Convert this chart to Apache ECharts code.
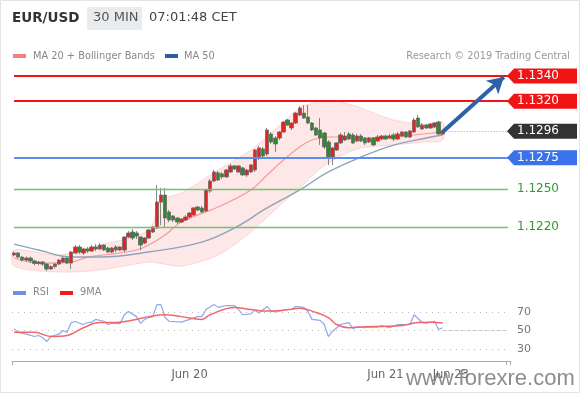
<!DOCTYPE html>
<html><head><meta charset="utf-8">
<script src="https://cdn.jsdelivr.net/npm/echarts@6/dist/echarts.min.js"></script>
<style>html,body{margin:0;padding:0;background:#fff}#c{width:580px;height:393px}</style>
</head><body><div id="c"></div><script>
// ---------- DATA ----------
const ohlc = [
[1.11977,1.11993,1.11965,1.12005],[1.11993,1.11961,1.11950,1.12001],[1.11961,1.11937,1.11925,1.11970],[1.11937,1.11953,1.11925,1.11965],
[1.11953,1.11930,1.11915,1.11965],[1.11930,1.11910,1.11895,1.11940],[1.11910,1.11921,1.11895,1.11930],[1.11921,1.11905,1.11890,1.11930],
[1.11905,1.11866,1.11850,1.11913],[1.11866,1.11885,1.11858,1.11897],[1.11885,1.11905,1.11870,1.11913],[1.11905,1.11937,1.11897,1.11945],
[1.11921,1.11953,1.11913,1.11961],[1.11953,1.11913,1.11905,1.11961],[1.11913,1.12001,1.11866,1.12009],[1.11993,1.12041,1.11985,1.12056],
[1.12041,1.12001,1.11985,1.12056],[1.11993,1.12025,1.11977,1.12033],[1.12025,1.12009,1.11993,1.12041],[1.12009,1.12041,1.12001,1.12056],
[1.12041,1.12025,1.12009,1.12064],[1.12025,1.12056,1.12017,1.12072],[1.12056,1.12017,1.12009,1.12064],[1.12033,1.12001,1.11993,1.12041],
[1.12001,1.12033,1.11993,1.12041],[1.12041,1.12017,1.12001,1.12056],[1.12017,1.12041,1.12009,1.12048],[1.12017,1.12120,1.12001,1.12128],
[1.12120,1.12152,1.12112,1.12168],[1.12160,1.12112,1.12096,1.12184],[1.12152,1.12128,1.12104,1.12168],[1.12120,1.12056,1.12017,1.12128],
[1.12072,1.12112,1.12064,1.12120],[1.12112,1.12176,1.12104,1.12184],[1.12160,1.12200,1.12152,1.12208],[1.12192,1.12398,1.12184,1.12533],
[1.12398,1.12454,1.12215,1.12510],[1.12454,1.12271,1.12192,1.12510],[1.12319,1.12255,1.12239,1.12335],[1.12287,1.12255,1.12239,1.12295],
[1.12271,1.12239,1.12223,1.12279],[1.12239,1.12263,1.12231,1.12271],[1.12255,1.12279,1.12247,1.12295],[1.12279,1.12311,1.12271,1.12319],
[1.12295,1.12351,1.12287,1.12359],[1.12359,1.12335,1.12327,1.12367],[1.12351,1.12319,1.12311,1.12367],[1.12327,1.12494,1.12319,1.12502],
[1.12486,1.12565,1.12470,1.12581],[1.12565,1.12637,1.12557,1.12653],[1.12630,1.12573,1.12565,1.12645],[1.12622,1.12598,1.12581,1.12637],
[1.12598,1.12653,1.12590,1.12661],[1.12637,1.12685,1.12630,1.12701],[1.12685,1.12661,1.12653,1.12693],[1.12637,1.12685,1.12630,1.12693],
[1.12669,1.12614,1.12606,1.12677],[1.12614,1.12653,1.12598,1.12661],[1.12637,1.12693,1.12630,1.12701],[1.12653,1.12812,1.12637,1.12820],
[1.12748,1.12828,1.12732,1.12844],[1.12820,1.12764,1.12748,1.12836],[1.12780,1.12971,1.12764,1.12987],[1.12939,1.12875,1.12860,1.12955],
[1.12907,1.12860,1.12796,1.12923],[1.12907,1.12955,1.12891,1.12963],[1.12955,1.13034,1.12947,1.13042],[1.13050,1.13010,1.13002,1.13058],
[1.12987,1.13026,1.12971,1.13034],[1.13026,1.13105,1.13018,1.13113],[1.13089,1.13145,1.13081,1.13161],[1.13105,1.13066,1.13058,1.13169],
[1.13074,1.13026,1.13018,1.13169],[1.13026,1.12971,1.12963,1.13034],[1.12987,1.12931,1.12923,1.12995],[1.12971,1.12907,1.12852,1.13066],
[1.12947,1.12836,1.12820,1.12955],[1.12875,1.12756,1.12692,1.12891],[1.12756,1.12828,1.12692,1.12836],[1.12812,1.12868,1.12804,1.12875],
[1.12868,1.12931,1.12860,1.12947],[1.12891,1.12923,1.12883,1.12955],[1.12939,1.12899,1.12891,1.12955],[1.12931,1.12868,1.12860,1.12947],
[1.12883,1.12923,1.12875,1.12939],[1.12923,1.12883,1.12875,1.12939],[1.12907,1.12868,1.12852,1.12915],[1.12875,1.12907,1.12868,1.12915],
[1.12907,1.12852,1.12844,1.12915],[1.12883,1.12915,1.12875,1.12931],[1.12899,1.12923,1.12891,1.12931],[1.12923,1.12899,1.12891,1.12931],
[1.12907,1.12923,1.12899,1.12939],[1.12931,1.12899,1.12883,1.12947],[1.12899,1.12939,1.12891,1.12955],[1.12923,1.12955,1.12915,1.12963],
[1.12955,1.12915,1.12907,1.12963],[1.12915,1.12963,1.12907,1.12971],[1.12955,1.13050,1.12947,1.13066],[1.13066,1.12995,1.12987,1.13089],
[1.12979,1.13010,1.12971,1.13026],[1.13010,1.12987,1.12979,1.13018],[1.12987,1.13018,1.12979,1.13026],[1.12995,1.13026,1.12987,1.13034],
[1.13034,1.12939,1.12931,1.13042],[1.12939,1.12963,1.12931,1.12971]
];
const ma20 = [[0,1.11953],[6,1.11913],[14,1.11921],[18,1.11961],[22,1.11977],[30,1.12017],[33,1.12056],[37,1.12136],[41,1.12239],[50,1.12359],[58,1.12494],[62,1.12613],[66,1.12732],[70,1.12836],[73,1.12891],[77,1.12915],[81,1.12915],[85,1.12907],[89,1.12907],[93,1.12915],[98,1.12931],[105,1.12955]];
const ma50 = [[0,1.12064],[6,1.12017],[14,1.11961],[21,1.11961],[33,1.12001],[46,1.12080],[54,1.12192],[62,1.12351],[70,1.12494],[77,1.12637],[85,1.12756],[93,1.12851],[101,1.12907],[105,1.12931]];
const bandIdx   = [0,11,21,33,36,41,50,58,66,70,74,77,81,85,93,101,105];
const bandUpper = [1.12017,1.11977,1.12056,1.12176,1.12414,1.12470,1.12653,1.12812,1.13034,1.13146,1.13190,1.13209,1.13185,1.13146,1.13050,1.13018,1.13034];
const bandLower = [1.11889,1.11842,1.11858,1.11921,1.11910,1.11889,1.11977,1.12160,1.12398,1.12510,1.12637,1.12708,1.12780,1.12828,1.12852,1.12876,1.12891];
const rsi = [[0,52],[1,48],[3,46],[5,43.5],[6,44.6],[7,42.4],[8,38],[9,43.5],[11,46],[12,50],[13,48],[14,58.6],[15,59.7],[17,56.5],[18,58.6],[19,59],[20,62],[22,60],[23,56.5],[24,58],[26,57.5],[27,67],[28,70.5],[30,65],[31,57.5],[32,62],[33,64],[34,65],[35,78],[36,78],[37,64],[38,60],[41,59],[43,62],[45,65],[46,65],[47,72.7],[49,78],[50,75],[52,77],[54,77],[55,72.7],[56,67],[58,68],[59,72],[60,69],[62,76],[63,71],[64,70],[66,72],[68,73],[69,76],[71,75],[72,70.5],[73,62],[75,61],[76,56.5],[77,43.5],[78,49],[80,56.5],[82,58.6],[83,52],[84,54],[86,53],[87,54],[89,53.5],[90,55.4],[92,53],[94,56.5],[95,56.5],[97,56.5],[98,67],[100,58.6],[101,58],[103,60],[104,51],[105,53]];
const rsiMa = [[0,48],[5,48],[9,43.5],[13,44.6],[17,53],[21,58.6],[25,58.6],[29,61],[33,65],[37,67],[41,65],[46,62],[48,67],[54,75],[58,72.7],[62,71],[66,72],[68,73],[70,74],[74,69.5],[77,64],[79,56.5],[82,53],[86,54],[90,54.4],[95,55.4],[99,58.6],[102,59],[105,58]];
const resistanceLevels = [1.1340, 1.1320];
const currentLevel = 1.1296;
const pivotLevel = 1.1275;
const supportLevels = [1.1250, 1.1220];
const levelValues = [1.1340, 1.1320, 1.1296, 1.1275, 1.1250, 1.1220];
const levelLabels = ['1.1340', '1.1320', '1.1296', '1.1275', '1.1250', '1.1220'];
const arrowFrom = [105, 1.12955];
const arrowTo = [120, 1.13392];
const xTickLabels = {43: 'Jun 20', 91: 'Jun 21', 107: 'Jun 23'};
const rsiTicks = {min: 30, max: 70, step: 20};
const slotCount = 122;
// ---------- END DATA ----------

const categories = Array.from({length: slotCount}, (_, i) => String(i));
const FONT = '"DejaVu Sans", Verdana, sans-serif';
const tagStyles = [
  {bg: '#f01414', color: '#fff'},
  {bg: '#f01414', color: '#fff'},
  {bg: '#333333', color: '#fff'},
  {bg: '#3a72ec', color: '#fff'},
  {bg: null, color: '#2f9a2f'},
  {bg: null, color: '#2f9a2f'}
];
const spanLine = (v) => [{coord: [0, v]}, {coord: [slotCount - 1, v]}];
const levelSeries = (name, levels, color, width, type) => ({
  type: 'line', name, xAxisIndex: 0, yAxisIndex: 0, data: [], z: 4, color,
  markLine: {silent: true, symbol: 'none', label: {show: false}, z: 4,
    lineStyle: {color, width, type, opacity: 1}, data: levels.map(spanLine)}
});

const chart = echarts.init(document.getElementById('c'), null, {renderer: 'canvas'});
const option = {
  animation: false,
  backgroundColor: '#fff',
  textStyle: {fontFamily: FONT},
  grid: [
    {left: 12, right: 70, top: 63.4, bottom: 115.7},
    {left: 12, right: 70, top: 312, bottom: 44}
  ],
  xAxis: [
    {type: 'category', gridIndex: 0, data: categories, show: false, boundaryGap: true},
    {type: 'category', gridIndex: 1, data: categories, boundaryGap: true, offset: 12,
     axisLine: {lineStyle: {color: '#aaaaaa', width: 1}},
     axisTick: {show: true, length: 4, lineStyle: {color: '#aaaaaa'}, interval: (i) => i === 0 || i === slotCount - 1},
     axisLabel: {color: '#666', fontSize: 11.5, fontFamily: FONT, margin: 8,
       interval: (i) => xTickLabels[i] !== undefined,
       formatter: (v, i) => xTickLabels[i] || ''}}
  ],
  yAxis: [
    {type: 'value', gridIndex: 0, min: 1.1180, max: 1.1350, show: false, splitLine: {show: false}},
    {type: 'value', gridIndex: 1, position: 'right', min: rsiTicks.min, max: rsiTicks.max, interval: rsiTicks.step,
     axisLine: {show: false}, axisTick: {show: false},
     axisLabel: {color: '#777', fontSize: 11, fontFamily: FONT, margin: 7},
     splitLine: {show: true, lineStyle: {color: '#bbbbbb', type: [1, 5], width: 1}}}
  ],
  series: [
    {
      type: 'custom', name: 'band', xAxisIndex: 0, yAxisIndex: 0, silent: true, z: 1,
      data: bandIdx.map((x, k) => [x, bandUpper[k], bandLower[k]]),
      encode: {x: 0, y: [1, 2]},
      renderItem: (params, api) => {
        if (params.dataIndex !== 0) return null;
        const up = bandIdx.map((x, k) => api.coord([x, bandUpper[k]]));
        const lo = bandIdx.map((x, k) => api.coord([x, bandLower[k]])).reverse();
        return {type: 'polygon', shape: {points: up.concat(lo), smooth: 0.3},
                style: {fill: 'rgba(246,160,160,0.25)', stroke: 'rgba(246,160,160,0.35)', lineWidth: 1}};
      }
    },
    {type: 'line', name: 'MA 20', xAxisIndex: 0, yAxisIndex: 0, data: ma20, showSymbol: false, smooth: 0.4, z: 2,
     lineStyle: {color: '#f59a9a', width: 1.2}},
    {type: 'line', name: 'MA 50', xAxisIndex: 0, yAxisIndex: 0, data: ma50, showSymbol: false, smooth: 0.4, z: 2,
     lineStyle: {color: '#8ea4bc', width: 1.4}},
    levelSeries('resistance', resistanceLevels, '#f01414', 2, 'solid'),
    levelSeries('pivot', [pivotLevel], '#5b8def', 2, 'solid'),
    levelSeries('support', supportLevels, '#6fc46f', 1.3, 'solid'),
    {type: 'line', name: 'current', xAxisIndex: 0, yAxisIndex: 0, data: [], z: 4, color: '#9aa9b8',
     markLine: {silent: true, symbol: 'none', label: {show: false}, lineStyle: {color: '#9aa9b8', type: [1, 2], width: 1},
       data: [[{coord: [105, currentLevel]}, {coord: [slotCount - 1, currentLevel]}]]}},
    {
      type: 'candlestick', name: 'EUR/USD', xAxisIndex: 0, yAxisIndex: 0, data: ohlc, barWidth: 4, z: 3,
      itemStyle: {color: '#e32424', color0: '#2e8a2e', borderColor: '#6a6a6a', borderColor0: '#6a6a6a', borderWidth: 0.8}
    },
    {type: 'line', name: 'arrow', xAxisIndex: 0, yAxisIndex: 0, data: [], z: 6, color: '#2d63a6',
     markLine: {silent: true, label: {show: false}, z: 6, lineStyle: {color: '#2d63a6', width: 4, type: 'solid'},
       data: [[{coord: arrowFrom, symbol: 'none'}, {coord: arrowTo, symbol: 'arrow', symbolSize: [14, 16]}]]}},
    {
      type: 'custom', name: 'tags', xAxisIndex: 0, yAxisIndex: 0, silent: true, z: 10,
      data: levelValues.map(v => [0, v]),
      renderItem: (params, api) => {
        const i = params.dataIndex;
        const y = api.coord([0, api.value(1)])[1];
        const cs = params.coordSys;
        const tip = cs.x + cs.width - 3;
        const st = tagStyles[i];
        const children = [];
        if (st.bg) {
          children.push({type: 'polygon', shape: {points: [[tip, y], [tip + 7, y - 7.5], [577, y - 7.5], [577, y + 7.5], [tip + 7, y + 7.5]]},
                         style: {fill: st.bg}});
        }
        children.push({type: 'text', style: {text: levelLabels[i], x: tip + 10, y: y, align: 'left', verticalAlign: 'middle',
                       fill: st.color, font: '12px ' + FONT}});
        return {type: 'group', children};
      }
    },
    {type: 'line', name: 'RSI', xAxisIndex: 1, yAxisIndex: 1, data: rsi, showSymbol: false, clip: false, z: 2,
     lineStyle: {color: '#8fa8ea', width: 1.2},
     markLine: {silent: true, symbol: 'none', label: {show: false}, lineStyle: {color: '#aaaaaa', type: [1, 2], width: 1},
       data: [[{coord: [105, 50]}, {coord: [slotCount - 1, 50]}]]}},
    {type: 'line', name: '9MA', xAxisIndex: 1, yAxisIndex: 1, data: rsiMa, showSymbol: false, smooth: 0.4, clip: false, z: 3,
     lineStyle: {color: '#f06868', width: 1.5}}
  ],
  graphic: [
    {type: 'rect', shape: {x: 0.5, y: 0.5, width: 579, height: 392}, style: {fill: 'none', stroke: '#e4e4e4', lineWidth: 1}, silent: true},
    {type: 'text', left: 12, top: 11, style: {text: 'EUR/USD', font: 'bold 13.5px ' + FONT, fill: '#333'}},
    {type: 'rect', shape: {x: 87, y: 7, width: 55, height: 23}, style: {fill: '#e9ecee'}},
    {type: 'text', left: 93, top: 11, style: {text: '30 MIN', font: '13px ' + FONT, fill: '#555'}},
    {type: 'text', left: 149, top: 11, style: {text: '07:01:48 CET', font: '13px ' + FONT, fill: '#444'}},
    {type: 'rect', shape: {x: 13, y: 54, width: 13, height: 4}, style: {fill: '#f48080'}},
    {type: 'text', left: 33, top: 51, style: {text: 'MA 20 + Bollinger Bands', font: '9.8px ' + FONT, fill: '#888'}},
    {type: 'rect', shape: {x: 165, y: 54, width: 13, height: 4}, style: {fill: '#2f5f9e'}},
    {type: 'text', left: 184, top: 51, style: {text: 'MA 50', font: '9.8px ' + FONT, fill: '#888'}},
    {type: 'text', right: 10, top: 51, style: {text: 'Research © 2019 Trading Central', font: '9.8px ' + FONT, fill: '#999'}},
    {type: 'rect', shape: {x: 13, y: 291, width: 13, height: 4}, style: {fill: '#6f8fe0'}},
    {type: 'text', left: 33, top: 287, style: {text: 'RSI', font: '9.8px ' + FONT, fill: '#888'}},
    {type: 'rect', shape: {x: 60, y: 291, width: 13, height: 4}, style: {fill: '#f01c1c'}},
    {type: 'text', left: 80, top: 287, style: {text: '9MA', font: '9.8px ' + FONT, fill: '#888'}},
    {type: 'text', left: 406, top: 368, z: 100, style: {text: 'www.forexre.com', font: '22px "Liberation Sans", Arial, sans-serif', fill: 'rgba(120,120,120,0.85)'}}
  ]
};
chart.setOption(option);
</script></body></html>
